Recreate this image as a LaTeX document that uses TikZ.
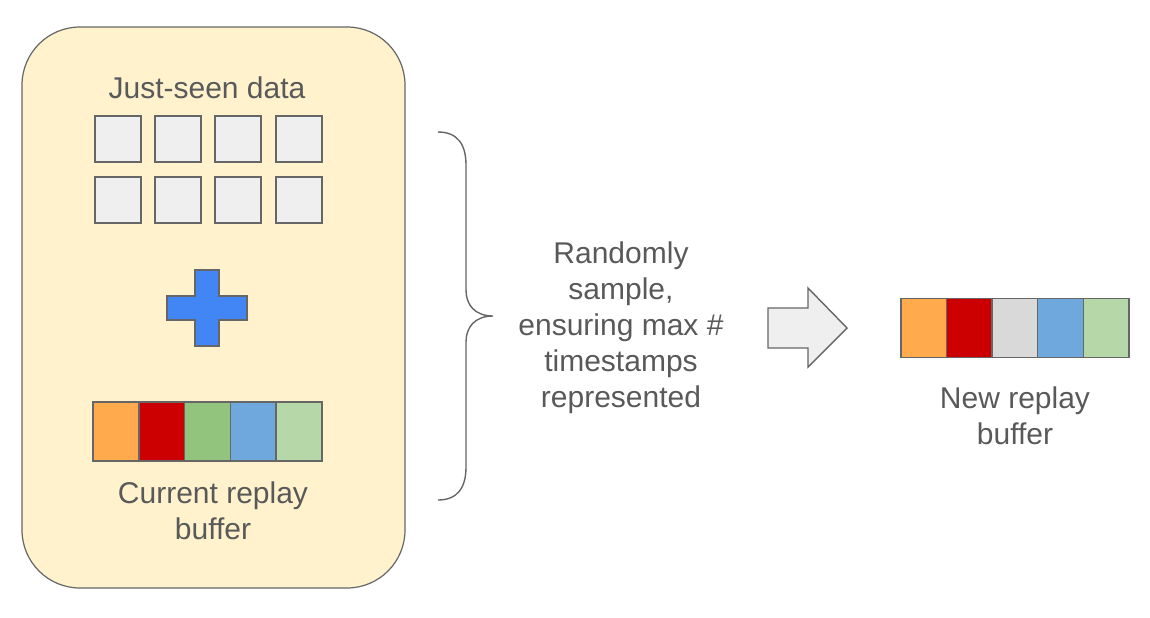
\documentclass[tikz,border=0pt]{standalone}
\usepackage{fontspec}
\setmainfont{Liberation Sans}
\definecolor{boxfill}{HTML}{FFF2CC}
\definecolor{edgegray}{HTML}{666666}
\definecolor{textgray}{HTML}{595959}
\definecolor{sqfill}{HTML}{EFEFEF}
\definecolor{plusblue}{HTML}{4285F4}
\definecolor{cOrange}{HTML}{FFAB4D}
\definecolor{cRed}{HTML}{CC0000}
\definecolor{cGreen}{HTML}{93C47D}
\definecolor{cBlue}{HTML}{6FA8DC}
\definecolor{cLgreen}{HTML}{B6D7A8}
\definecolor{cGray}{HTML}{D9D9D9}

\begin{document}
\begin{tikzpicture}[x=0.5pt,y=-0.5pt,
	txt/.style={text=textgray,font=\fontsize{15}{18}\selectfont,align=center},
	sq/.style={draw=edgegray,fill=sqfill,line width=0.75pt,minimum size=23pt,inner sep=0pt},
	cell/.style={draw=edgegray,line width=0.75pt,minimum width=22.9pt,minimum height=29.5pt,inner sep=0pt}]
	\useasboundingbox (0,0) rectangle (1150,617);

	% left panel
	\draw[edgegray,fill=boxfill,line width=0.6pt,rounded corners=29pt] (22,27) rectangle (405,588);
	\node[txt] at (207,88)(seen){Just-seen data};
	\foreach \x [count=\i] in {118,178,238,299}{
		\node[sq] at (\x,139)(top\i){};
		\node[sq] at (\x,200)(bot\i){};
	}
	\draw[edgegray,fill=plusblue,line width=0.75pt] (195,270)--(219,270)--(219,296)--(247,296)--(247,320)--(219,320)
		--(219,346)--(195,346)--(195,320)--(167,320)--(167,296)--(195,296)--cycle;
	\foreach \c [count=\i from 0] in {cOrange,cRed,cGreen,cBlue,cLgreen}
		\node[cell,fill=\c] at (115.9+45.8*\i,431.5)(cur\i){};
	\node[txt] at (213,511)(curlbl){Current replay\\buffer};

	% brace and sampling text
	\draw[edgegray,line width=0.7pt] (438,132) .. controls (458,132) and (466,145) .. (466,165) -- (466,290)
		.. controls (466,305) and (475,316) .. (493,316) .. controls (475,316) and (466,327) .. (466,342)
		-- (466,467) .. controls (466,487) and (458,500) .. (438,500);
	\node[txt] at (621,328)(sample){Randomly\\sample,\\ensuring max \#\\timestamps\\represented};

	% block arrow
	\draw[edgegray,fill=sqfill,line width=0.7pt] (768,308)--(808,308)--(808,288)--(847,328)--(808,367)--(808,348)--(768,348)--cycle;

	% new buffer
	\foreach \c [count=\i from 0] in {cOrange,cRed,cGray,cBlue,cLgreen}
		\node[cell,fill=\c] at (923.8+45.6*\i,328)(new\i){};
	\node[txt] at (1015,416)(newlbl){New replay\\buffer};
\end{tikzpicture}
\end{document}
